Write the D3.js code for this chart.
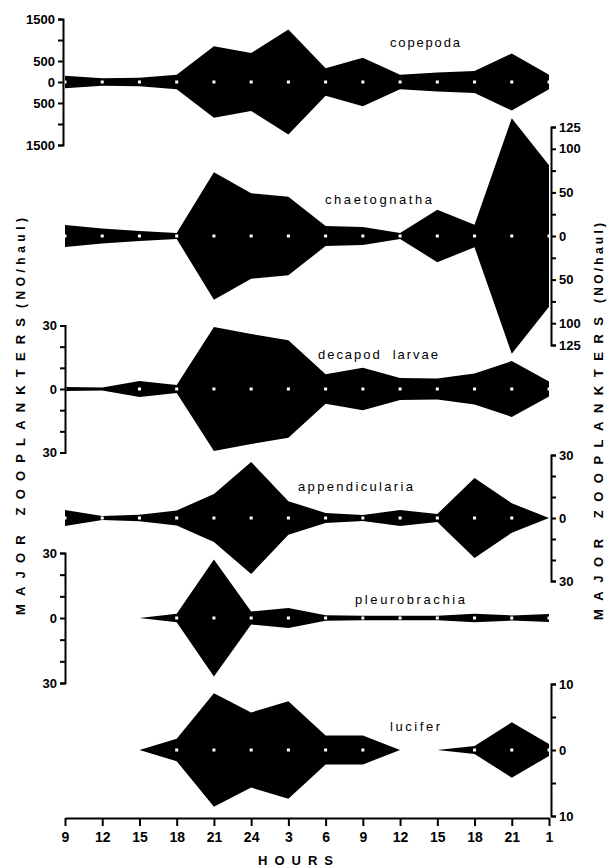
<!DOCTYPE html>
<html>
<head>
<meta charset="utf-8">
<script src="https://cdn.jsdelivr.net/npm/d3@7"></script>
<style>
  body { margin: 0; background: #fff; }
  text { font-family: "Liberation Sans", Arial, sans-serif; fill: #000; }
</style>
</head>
<body>
<div id="chart"></div>
<script>
// sampling times (hours) along the bottom axis
const hourLabels = ["9", "12", "15", "18", "21", "24", "3", "6", "9", "12", "15", "18", "21", "1"];

// half-widths of each kite, NO/haul (null = not sampled)
const copepoda = [150, 90, 100, 170, 850, 690, 1250, 330, 580, 170, 225, 260, 680, 170];
const chaetognatha = [12.6, 8.6, 5.7, 3.4, 73, 49, 45, 11.5, 10.3, 3.4, 30, 13, 135, 81];
const decapodLarvae = [1, 0.7, 3.8, 1.9, 29.3, 26, 23, 7, 10, 5.2, 5, 7.3, 13.2, 3.5];
const appendicularia = [3.8, 1, 1.6, 3.6, 11.4, 26.7, 8, 2.4, 1.4, 3.8, 1.9, 19, 7, 0];
const pleurobrachia = [null, null, 0, 2, 27, 3, 4.6, 1.3, 1, 1, 1, 2, 1.2, 1.8];
const lucifer = [null, null, 0, 1.7, 8.6, 5.7, 7.4, 2.2, 2.2, 0, 0, 0.6, 4.2, 0.9];

// axis tick steps and which tick values get a label
const copepodaTicks = { step: 500, max: 1500, shown: [0, 500, 1500] };
const chaetognathaTicks = { step: 25, max: 125, shown: [0, 50, 100, 125] };
const decapodTicks = { step: 10, max: 30, shown: [0, 30] };
const appendiculariaTicks = { step: 10, max: 30, shown: [0, 30] };
const pleurobrachiaTicks = { step: 10, max: 30, shown: [0, 30] };
const luciferTicks = { step: 5, max: 10, shown: [0, 10] };

function init() {
  var width = 608,
    height = 867;

  var svg = d3
    .select("#chart")
    .append("svg")
    .attr("width", width)
    .attr("height", height);

  // x: one slot per haul
  var x = d3
    .scalePoint()
    .domain(d3.range(hourLabels.length))
    .range([65, 549]);

  // layout of the six strips
  var panels = [
    { name: "copepoda", values: copepoda, ticks: copepodaTicks, base: 82, half: 63, side: "left", axisX: 63, lx: 390, ly: 47, lw: 70 },
    { name: "chaetognatha", values: chaetognatha, ticks: chaetognathaTicks, base: 236, half: 109, side: "right", axisX: 551, lx: 325, ly: 204, lw: 107 },
    { name: "decapod  larvae", values: decapodLarvae, ticks: decapodTicks, base: 389, half: 63.5, side: "left", axisX: 65, lx: 318, ly: 359, lw: 120 },
    { name: "appendicularia", values: appendicularia, ticks: appendiculariaTicks, base: 518, half: 63, side: "right", axisX: 551, lx: 298, ly: 491, lw: 115 },
    { name: "pleurobrachia", values: pleurobrachia, ticks: pleurobrachiaTicks, base: 618, half: 65, side: "left", axisX: 65, lx: 355, ly: 604, lw: 110 },
    { name: "lucifer", values: lucifer, ticks: luciferTicks, base: 750, half: 66, side: "right", axisX: 551, lx: 390, ly: 731, lw: 50 },
  ];

  panels.forEach(function (p) {
    var y = d3
      .scaleLinear()
      .domain([-p.ticks.max, p.ticks.max])
      .range([p.base + p.half, p.base - p.half]);

    var pts = p.values.map(function (v, i) {
      return { i: i, v: v };
    });

    // the kite (symmetric about zero)
    var area = d3
      .area()
      .defined(function (d) {
        return d.v != null;
      })
      .x(function (d) {
        return x(d.i);
      })
      .y0(function (d) {
        return y(-d.v);
      })
      .y1(function (d) {
        return y(d.v);
      });

    svg.append("path").datum(pts).attr("fill", "#000").attr("d", area);

    // white sample marks (only where the kite is wide enough to show them)
    svg
      .append("g")
      .selectAll("rect")
      .data(
        pts.filter(function (d) {
          return d.v != null && d.v > 0 && y(0) - y(d.v) > 2;
        })
      )
      .enter()
      .append("rect")
      .attr("x", function (d) {
        return x(d.i) - 1.5;
      })
      .attr("y", function (d) {
        return y(0) - 1.5;
      })
      .attr("width", 3)
      .attr("height", 3)
      .attr("fill", "#fff");

    // the axis
    var tv = d3.range(-p.ticks.max, p.ticks.max + 0.001, p.ticks.step);
    var axis = (p.side == "left" ? d3.axisLeft(y) : d3.axisRight(y))
      .tickValues(tv)
      .tickSizeInner(5)
      .tickSizeOuter(5)
      .tickPadding(3)
      .tickFormat(function (d) {
        return p.ticks.shown.indexOf(Math.abs(d)) >= 0 ? Math.abs(d) : "";
      });

    var g = svg
      .append("g")
      .attr("transform", "translate(" + p.axisX + ",0)")
      .call(axis);
    g.selectAll("path, line").attr("stroke", "#000").attr("stroke-width", 2);
    g.selectAll("text")
      .style("font-size", "13px")
      .style("font-weight", "bold")
      .style("font-family", "'Liberation Sans', Arial, sans-serif");

    // strip name
    svg
      .append("text")
      .attr("x", p.lx)
      .attr("y", p.ly)
      .attr("textLength", p.lw)
      .attr("lengthAdjust", "spacing")
      .style("font-size", "13px")
      .style("white-space", "pre")
      .text(p.name);
  });

  // bottom hours axis
  var xAxis = svg
    .append("g")
    .attr("transform", "translate(0,818)")
    .call(
      d3
        .axisBottom(x)
        .tickSizeInner(8)
        .tickSizeOuter(0)
        .tickPadding(6)
        .tickFormat(function (i) {
          return hourLabels[i];
        })
    );
  xAxis.select(".domain").attr("stroke", "#000").attr("stroke-width", 2);
  xAxis.selectAll("line").attr("stroke", "#000").attr("stroke-width", 2);
  xAxis
    .selectAll("text")
    .style("font-size", "14px")
    .style("font-weight", "bold")
    .style("font-family", "'Liberation Sans', Arial, sans-serif");

  svg
    .append("text")
    .attr("x", 258)
    .attr("y", 865)
    .attr("textLength", 75)
    .attr("lengthAdjust", "spacing")
    .style("font-size", "13px")
    .style("font-weight", "bold")
    .text("HOURS");

  // y titles, both sides
  [
    { x: 25, y0: 615, len0: 297, y1: 308, len1: 90 },
    { x: 603, y0: 620, len0: 303, y1: 303, len1: 80 },
  ].forEach(function (t) {
    svg
      .append("text")
      .attr("transform", "translate(" + t.x + "," + t.y0 + ") rotate(-90)")
      .attr("textLength", t.len0)
      .attr("lengthAdjust", "spacing")
      .style("font-size", "13px")
      .style("font-weight", "bold")
      .text("MAJOR ZOOPLANKTERS");
    svg
      .append("text")
      .attr("transform", "translate(" + t.x + "," + t.y1 + ") rotate(-90)")
      .attr("textLength", t.len1)
      .attr("lengthAdjust", "spacing")
      .style("font-size", "12px")
      .style("font-weight", "bold")
      .text("(NO/haul)");
  });
}

window.onload = init;
</script>
</body>
</html>
